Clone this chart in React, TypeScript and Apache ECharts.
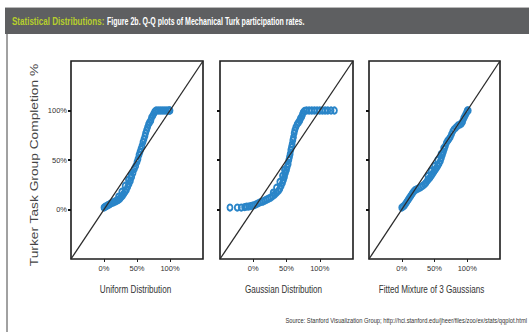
import React, { useEffect, useRef } from "react";
import * as echarts from "echarts";

const tickValues = [0, 50, 100];
const panelNames = ["Uniform Distribution", "Gaussian Distribution", "Fitted Mixture of 3 Gaussians"];
const yAxisTitle = "Turker Task Group Completion %";
const titleLead = "Statistical Distributions:";
const titleRest = "Figure 2b. Q-Q plots of Mechanical Turk participation rates.";
const sourceText = "Source: Stanford Visualization Group; http://hci.stanford.edu/jheer/files/zoo/ex/stats/qqplot.html";

// [theoretical quantile %, observed completion %]
const uniformPoints = [
  [0, 2], [2, 3], [4, 3.5], [6, 4.5], [8, 5], [10, 6], [12, 6.8], [14, 7.2], [16, 8], [18, 8.5],
  [20, 9.2], [22, 10], [24, 11], [26, 12.5], [28, 14], [30, 16], [32, 18], [34, 20], [36, 23],
  [38, 26], [40, 29], [42, 33], [44, 37], [46, 41], [48, 44], [50, 48], [51.5, 51], [53, 55],
  [54.5, 58], [56, 61], [57.5, 64], [59, 68], [60.5, 71], [62, 74], [63, 77], [64.5, 80], [66, 83],
  [67.5, 86], [69, 88], [71, 90], [72, 93], [74, 95], [75.5, 97], [77, 99], [79, 100], [82, 100],
  [85, 100], [88, 100], [91, 100], [94, 100], [97, 100], [99, 100], [100, 100],
  [22, 13], [27, 18], [32, 24], [37, 30], [41, 35],
];

const gaussianPoints = [
  [-35, 2], [-24, 2], [-18, 2], [-13, 2.5], [-10, 3], [-7, 3], [-4, 3.5], [-1, 4], [2, 4.5],
  [5, 5.5], [8, 6.5], [11, 7.5], [14, 8], [17, 9], [20, 10], [23, 11], [26, 12], [29, 13.5],
  [32, 15], [35, 17], [38, 19], [40, 21], [42, 24], [44, 27], [45.5, 30], [47, 33], [48.5, 37],
  [50, 40], [51, 43], [52.5, 46], [53.5, 50], [54.5, 53], [55.5, 56], [56.5, 60], [57.5, 63],
  [58.5, 66], [59.5, 70], [60.5, 73], [61.5, 77], [62.5, 80], [64, 83], [66, 86], [68, 88],
  [70, 90], [71, 92], [73, 94], [74, 96], [75, 98], [77, 99.5], [80, 100], [84, 100], [88, 100],
  [92, 100], [96, 100], [100, 100], [104, 100], [108, 100], [112, 100], [117, 100], [122, 100],
  [30, 17], [35, 22], [40, 28], [44, 34], [47, 40],
];

const mixturePoints = [
  [0, 2], [2, 3], [4, 4], [6, 6], [8, 8], [10, 10], [12, 12], [14, 14], [16, 16], [18, 18],
  [20, 19.5], [23, 20.5], [26, 21.5], [29, 22.5], [32, 24], [35, 25.5], [37, 27], [39, 29],
  [41, 30.5], [43, 32], [45, 34], [47, 36], [49, 38], [51, 40], [53, 42], [55, 44], [57, 46.5],
  [59, 49], [60.5, 52], [62, 55], [63.5, 58], [65, 61], [66.5, 64], [68, 67], [70, 69.5],
  [72, 71], [74, 73], [76, 76], [78, 79], [80, 81], [83, 83], [86, 85], [89, 86], [91.5, 87],
  [93, 89], [94.5, 92], [96, 94], [97.5, 96], [99, 98], [100, 100], [101.5, 100],
  [40, 34], [45, 39], [50, 44], [55, 50], [60, 56], [64, 62],
];

const diagonal = [[-50, -50], [150, 150]];
const panelData = [uniformPoints, gaussianPoints, mixturePoints];

const BLUE = "#2a85c8";
const SANS = "'Liberation Sans', Arial, sans-serif";

export default function App() {
  const ref = useRef<HTMLDivElement>(null);
  useEffect(() => {
    const chart = echarts.init(ref.current!, null, { renderer: "svg" });
    const gridBoxes = [
      { left: 71, top: 61, width: 132, height: 198 },
      { left: 220, top: 61, width: 133, height: 198 },
      { left: 369, top: 61, width: 131, height: 198 },
    ];
    const nameCenters = [135.5, 283.5, 431.5];
    const grids = gridBoxes.map((g) => ({
      ...g,
      show: true,
      borderColor: "#1c1c1c",
      borderWidth: 1.6,
      backgroundColor: "transparent",
    }));

    const fmt = (v: number) => (v < 0 || v > 100 ? "" : v + "%");

    const xAxes = grids.map((_, i) => ({
      type: "value",
      gridIndex: i,
      min: -50,
      max: 150,
      interval: 50,
      axisLine: { show: false, onZero: false },
      splitLine: { show: false },
      axisTick: {
        show: true,
        customValues: tickValues,
        length: 3,
        lineStyle: { color: "#222", width: 1 },
      },
      axisLabel: {
        customValues: tickValues,
        formatter: fmt,
        fontFamily: SANS,
        fontSize: 7.5,
        color: "#333",
        margin: 5,
      },
    }));

    const yAxes = grids.map((_, i) => ({
      type: "value",
      gridIndex: i,
      min: -50,
      max: 150,
      interval: 50,
      axisLine: { show: false, onZero: false },
      splitLine: { show: false },
      axisTick: {
        show: true,
        customValues: tickValues,
        length: 3,
        lineStyle: { color: "#111", width: 2 },
      },
      axisLabel: {
        show: i === 0,
        customValues: tickValues,
        formatter: fmt,
        fontFamily: SANS,
        fontSize: 7.5,
        color: "#333",
        margin: 4,
      },
    }));

    const series: any[] = [];
    panelData.forEach((pts, i) => {
      series.push({
        type: "scatter",
        xAxisIndex: i,
        yAxisIndex: i,
        data: pts,
        symbol: "circle",
        symbolSize: [5, 6],
        itemStyle: { color: "rgba(0,0,0,0)", borderColor: BLUE, borderWidth: 2, opacity: 1 },
        z: 2,
        silent: true,
      });
      series.push({
        type: "line",
        xAxisIndex: i,
        yAxisIndex: i,
        data: diagonal,
        showSymbol: false,
        symbol: "none",
        lineStyle: { color: "#2a2a2a", width: 1.3 },
        z: 3,
        silent: true,
      });
    });

    const nameTexts = panelNames.map((n, i) => ({
      type: "text",
      x: nameCenters[i],
      y: 289,
      scaleX: 0.74,
      style: {
        text: n,
        fill: "#333",
        fontFamily: SANS,
        fontSize: 11,
        textAlign: "center",
        textVerticalAlign: "middle",
      },
      silent: true,
    }));

    chart.setOption({
      animation: false,
      backgroundColor: "#ffffff",
      grid: grids,
      xAxis: xAxes,
      yAxis: yAxes,
      series,
      graphic: [
        {
          type: "rect",
          shape: { x: 5, y: 8, width: 524, height: 26 },
          style: { fill: "#5e5f61" },
          silent: true,
        },
        {
          type: "line",
          shape: { x1: 5, y1: 7.5, x2: 529, y2: 7.5 },
          style: { stroke: "#b8b8b8", lineWidth: 1 },
          silent: true,
        },
        {
          type: "line",
          shape: { x1: 7, y1: 34, x2: 7, y2: 332 },
          style: { stroke: "#444", lineWidth: 1 },
          silent: true,
        },
        {
          type: "text",
          x: 12,
          y: 21,
          scaleX: 0.73,
          style: {
            text: titleLead,
            fill: "#b7cf2c",
            fontFamily: SANS,
            fontSize: 11,
            fontWeight: "bold",
            textVerticalAlign: "middle",
          },
          silent: true,
        },
        {
          type: "text",
          x: 107,
          y: 21,
          scaleX: 0.64,
          style: {
            text: titleRest,
            fill: "#ffffff",
            fontFamily: SANS,
            fontSize: 11,
            fontWeight: "bold",
            textVerticalAlign: "middle",
          },
          silent: true,
        },
        {
          type: "text",
          x: 35,
          y: 165,
          rotation: Math.PI / 2,
          scaleX: 1.31,
          style: {
            text: yAxisTitle,
            fill: "#444",
            fontFamily: SANS,
            fontSize: 10.5,
            textAlign: "center",
            textVerticalAlign: "middle",
          },
          silent: true,
        },
        {
          type: "text",
          x: 527,
          y: 320,
          scaleX: 0.72,
          style: {
            text: sourceText,
            fill: "#333",
            fontFamily: SANS,
            fontSize: 8,
            textAlign: "right",
            textVerticalAlign: "middle",
          },
          silent: true,
        },
        ...nameTexts,
      ],
    });
    return () => chart.dispose();
  }, []);
  return (
    <div
      ref={ref}
      style={{ position: "absolute", left: 0, top: 0, width: 529, height: 332 }}
    />
  );
}
